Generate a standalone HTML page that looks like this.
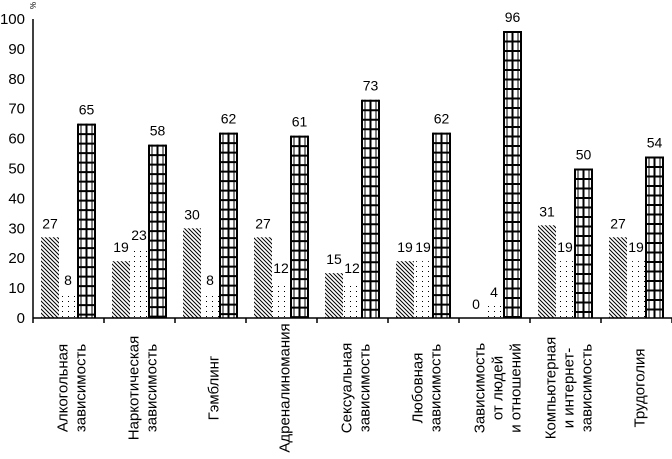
<!DOCTYPE html>
<html><head><meta charset="utf-8"><style>
html,body{margin:0;padding:0;background:#fff;}
svg{display:block;font-family:"Liberation Sans",sans-serif;}
</style></head><body>
<svg id="chart" width="672" height="459" viewBox="0 0 672 459">
<defs>
<pattern id="hatch" width="4" height="4" patternUnits="userSpaceOnUse">
<path d="M-1,-1 L5,5 M-1,3 L1,5 M3,-1 L5,1" stroke="#000" stroke-width="1"/>
</pattern>
<pattern id="dots" width="6" height="5" patternUnits="userSpaceOnUse">
<rect x="2" y="1" width="1" height="1" fill="#000"/>
</pattern>
</defs>
<g id="axes"></g>
<g id="bars"></g>
<g id="labels"></g>
</svg>
<script>
const categories=[["Алкогольная","зависимость"],["Наркотическая","зависимость"],["Гэмблинг"],["Адреналиномания"],["Сексуальная","зависимость"],["Любовная","зависимость"],["Зависимость","от людей","и отношений"],["Компьютерная","и интернет-","зависимость"],["Трудоголия"]];
const seriesA=[27,19,30,27,15,19,0,31,27];
const seriesB=[8,23,8,12,12,19,4,19,19];
const seriesC=[65,58,62,61,73,62,96,50,54];
const yTicks=[0,10,20,30,40,50,60,70,80,90,100];
const NS="http://www.w3.org/2000/svg";
const x0=33,gw=71,yBase=318,yTop=19;
const y=v=>yBase-(yBase-yTop)*v/100;
const gx=i=>x0+gw*i;
function el(t,a,p){const e=document.createElementNS(NS,t);for(const k in a)e.setAttribute(k,a[k]);p.appendChild(e);return e;}
const axes=document.getElementById('axes'),bars=document.getElementById('bars'),labels=document.getElementById('labels');
let ax=el('line',{x1:x0,y1:yTop,x2:x0,y2:yBase,stroke:'#000','stroke-width':1.5},axes);

let bx=el('line',{x1:x0,y1:yBase,x2:672,y2:yBase,stroke:'#000','stroke-width':1.5},axes);

let pc=el('text',{x:0,y:0,'font-size':8,transform:'translate(30,2) rotate(90)'},axes);pc.textContent='%';

yTicks.forEach(v=>{const t=el('text',{x:25,y:y(v)+5,'text-anchor':'end','font-size':15},axes);t.textContent=v;
});
for(let i=0;i<=categories.length;i++){const t=el('line',{x1:gx(i),y1:yBase,x2:gx(i),y2:yBase+5,stroke:'#000','stroke-width':1.5},axes);
}
categories.forEach((c,i)=>{
 const bxa=gx(i)+8,w=18;
 const a=el('rect',{x:bxa,y:y(seriesA[i]),width:w,height:yBase-y(seriesA[i]),fill:'url(#hatch)'},bars);
 
 const b=el('rect',{x:bxa+w,y:y(seriesB[i]),width:w,height:yBase-y(seriesB[i]),fill:'url(#dots)'},bars);
 
 const cx=bxa+2*w+1,cw=17,top=y(seriesC[i]);
 const g=el('g',{},bars);
 
 [[cx,2],[cx+3,1],[cx+cw/2,2],[cx+cw-3,1],[cx+cw,2]].forEach(([lx,sw])=>{el('line',{x1:lx,y1:top,x2:lx,y2:yBase,stroke:'#000','stroke-width':sw},g);});
 for(let ry=top+1;ry<yBase;ry+=9.5){el('line',{x1:cx,y1:ry,x2:cx+cw,y2:ry,stroke:'#000','stroke-width':2},g);}
 [[seriesA[i],bxa+w/2],[seriesB[i],bxa+w*1.5],[seriesC[i],cx+cw/2]].forEach(([v,lx])=>{
  const t=el('text',{x:lx,y:y(v)-9,'text-anchor':'middle','font-size':14},labels);t.textContent=v;
  });
 const n=c.length,sp=18,cxl=gx(i)+35.5;
 c.forEach((line,k)=>{const lx=cxl+(k-(n-1)/2)*sp+8;
  const t=el('text',{x:0,y:0,'text-anchor':'middle','font-size':15,transform:`translate(${lx},388) rotate(-90)`},labels);
  t.textContent=line;});
});
</script>
</body></html>
